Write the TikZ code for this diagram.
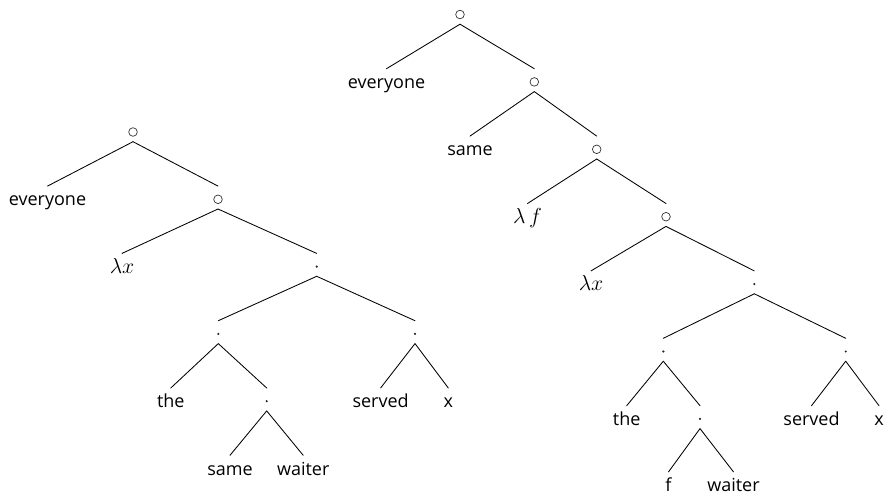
\documentclass[tikz,border=0pt]{standalone}
\usepackage{fontspec}
\setmainfont{Open Sans}
\tikzset{
  tn/.style={anchor=base, inner xsep=0pt, inner ysep=3pt,
             text height=16.5pt, text depth=0pt},
  % composition node: a small ring at the x-height centre
  comp/.style={tn, minimum width=12pt, path picture={
      \draw[line width=0.7pt, black!80]
        ([yshift=-1.75pt]path picture bounding box.center) circle (4.3pt);}},
  % application node: a small dot at the x-height centre
  appl/.style={tn, minimum width=12pt, path picture={
      \fill[black!85]
        ([yshift=-1.75pt]path picture bounding box.center) circle (1.2pt);}},
  branch/.style={line width=0.85pt, line cap=round}
}
% math labels, scaled so that "\lambda x" is 24.5pt wide
\newsavebox\refbox
\newcommand{\mth}[1]{\sbox\refbox{$\lambda x$}%
  \pgfmathsetmacro\msc{24.5/\wd\refbox}\scalebox{\msc}{$#1$}}
\begin{document}
\begin{tikzpicture}[x=1pt, y=-1pt, font=\fontsize{18}{22}\selectfont]
\useasboundingbox (0,0) rectangle (886,495);

% ---------- left tree ----------
\node[comp] (a0) at (133,138.5) {};
\node[tn] (a1) at (47.5,205.8) {everyone};
\node[comp] (a2) at (218,205.8) {};
\node[tn] (a3) at (122,273.1) {\mth{\lambda x}};
\node[appl] (a4) at (316.7,273.1) {};
\node[appl] (a5) at (218.3,340.4) {};
\node[appl] (a6) at (415,340.4) {};
\node[tn] (a7) at (170.8,407.7) {the};
\node[appl] (a8) at (266.7,407.7) {};
\node[tn] (a9) at (380.6,407.7) {served};
\node[tn] (a10) at (448.3,407.7) {x};
\node[tn] (a11) at (230,475) {same};
\node[tn] (a12) at (303.2,475) {waiter};

\draw[branch] (a0.south) -- (a1.north);
\draw[branch] (a0.south) -- (a2.north);
\draw[branch] (a2.south) -- (a3.north);
\draw[branch] (a2.south) -- (a4.north);
\draw[branch] (a4.south) -- (a5.north);
\draw[branch] (a4.south) -- (a6.north);
\draw[branch] (a5.south) -- (a7.north);
\draw[branch] (a5.south) -- (a8.north);
\draw[branch] (a6.south) -- (a9.north);
\draw[branch] (a6.south) -- (a10.north);
\draw[branch] (a8.south) -- (a11.north);
\draw[branch] (a8.south) -- (a12.north);

% ---------- right tree ----------
\node[comp] (b0) at (460,21) {};
\node[tn] (b1) at (386.5,88.4) {everyone};
\node[comp] (b2) at (534.3,88.4) {};
\node[tn] (b3) at (470,155.8) {same};
\node[comp] (b4) at (596.7,155.8) {};
\node[tn] (b5) at (527.5,223.2) {\mth{\lambda\,f}};
\node[comp] (b6) at (666,223.2) {};
\node[tn] (b7) at (591,290.6) {\mth{\lambda x}};
\node[appl] (b8) at (754.3,290.6) {};
\node[appl] (b9) at (663.3,358) {};
\node[appl] (b10) at (845.7,358) {};
\node[tn] (b11) at (626.7,425.4) {the};
\node[appl] (b12) at (700,425.4) {};
\node[tn] (b13) at (811.5,425.4) {served};
\node[tn] (b14) at (879,425.4) {x};
\node[tn] (b15) at (668.5,491.6) {f};
\node[tn] (b16) at (733.5,491.6) {waiter};

\draw[branch] (b0.south) -- (b1.north);
\draw[branch] (b0.south) -- (b2.north);
\draw[branch] (b2.south) -- (b3.north);
\draw[branch] (b2.south) -- (b4.north);
\draw[branch] (b4.south) -- (b5.north);
\draw[branch] (b4.south) -- (b6.north);
\draw[branch] (b6.south) -- (b7.north);
\draw[branch] (b6.south) -- (b8.north);
\draw[branch] (b8.south) -- (b9.north);
\draw[branch] (b8.south) -- (b10.north);
\draw[branch] (b9.south) -- (b11.north);
\draw[branch] (b9.south) -- (b12.north);
\draw[branch] (b10.south) -- (b13.north);
\draw[branch] (b10.south) -- (b14.north);
\draw[branch] (b12.south) -- (b15.north);
\draw[branch] (b12.south) -- (b16.north);
\end{tikzpicture}
\end{document}
